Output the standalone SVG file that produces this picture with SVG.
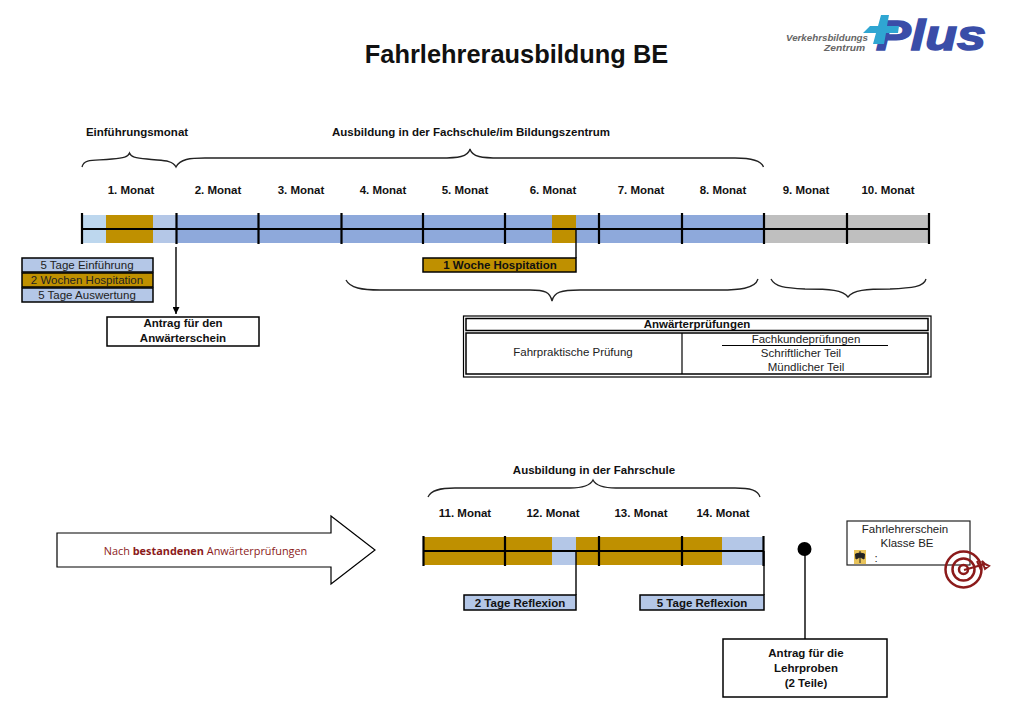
<svg xmlns="http://www.w3.org/2000/svg" width="1024" height="714" viewBox="0 0 1024 714">
<style>
text{font-family:"Liberation Sans",Arial,sans-serif;fill:#111;text-anchor:middle}
.b{font-weight:bold;font-size:11.500px}
.n{font-size:11.500px;fill:#222}
.tick{stroke:#000;stroke-width:2.200;fill:none}
.axis{stroke:#000;stroke-width:2;fill:none}
.line{stroke:#000;stroke-width:1.400;fill:none}
.brace{stroke:#222;stroke-width:1.300;fill:none}
.box{stroke:#000;stroke-width:1.500;fill:#fff}
.lb{fill:#B4C7E7}.go{fill:#BF9000}.mb{fill:#8EA9DB}.gr{fill:#BFBFBF}.pb{fill:#BDD7EE}
</style>
<defs><marker id="ah" markerWidth="8" markerHeight="7" refX="7" refY="3.500" orient="auto" markerUnits="userSpaceOnUse"><path d="M0 0L7 3.500L0 7Z" fill="#000"/></marker></defs>
<rect width="1024" height="714" fill="#fff"/>
<text x="516.500" y="63" style="font-size:25.400px;font-weight:bold">Fahrlehrerausbildung BE</text>
<g id="logo">
<text x="827" y="41" textLength="82" lengthAdjust="spacingAndGlyphs" style="font-size:8.500px;font-weight:bold;font-style:italic;fill:#666">Verkehrsbildungs</text>
<text x="844.500" y="51" textLength="41" lengthAdjust="spacingAndGlyphs" style="font-size:8.500px;font-weight:bold;font-style:italic;fill:#666">Zentrum</text>
<text x="931" y="50" textLength="110" lengthAdjust="spacingAndGlyphs" style="font-size:43px;font-weight:bold;font-style:italic;fill:#3A4DA8;stroke:#3A4DA8;stroke-width:1.500">Plus</text>
<path d="M881 15H889L887 26H899L898 33H886L884 44H873L876 33H863L870 26H878Z" fill="#2FA6D2"/>
</g>
<g id="headings">
<text x="137" y="136" class="b">Einführungsmonat</text>
<text x="471" y="136" class="b">Ausbildung in der Fachschule/im Bildungszentrum</text>
<text x="131" y="194" class="b">1. Monat</text><text x="218" y="194" class="b">2. Monat</text><text x="301" y="194" class="b">3. Monat</text><text x="383" y="194" class="b">4. Monat</text><text x="465" y="194" class="b">5. Monat</text><text x="553" y="194" class="b">6. Monat</text><text x="641" y="194" class="b">7. Monat</text><text x="723" y="194" class="b">8. Monat</text><text x="806" y="194" class="b">9. Monat</text><text x="888" y="194" class="b">10. Monat</text>
<text x="594" y="474" class="b">Ausbildung in der Fahrschule</text>
<text x="465" y="517" class="b">11. Monat</text><text x="553" y="517" class="b">12. Monat</text><text x="641" y="517" class="b">13. Monat</text><text x="723" y="517" class="b">14. Monat</text>
</g>
<g id="timeline1">
<rect x="82" y="215" width="24" height="28" class="pb"/><rect x="106" y="215" width="47" height="28" class="go"/><rect x="153" y="215" width="23" height="28" class="lb"/><rect x="176" y="215" width="588" height="28" class="mb"/><rect x="552" y="215" width="24" height="28" class="go"/><rect x="764" y="215" width="165" height="28" class="gr"/>
<path class="axis" d="M82 229H929"/>
<path class="tick" d="M82 213V244M176.500 213V244M258.500 213V244M341.500 213V244M423 213V244M505 213V244M599 213V244M682 213V244M764 213V244M847 213V244M929 213V244"/>
</g>
<g id="timeline2">
<rect x="424" y="537" width="128" height="28" class="go"/><rect x="552" y="537" width="24" height="28" class="lb"/><rect x="576" y="537" width="146" height="28" class="go"/><rect x="722" y="537" width="42" height="28" class="lb"/>
<path class="axis" d="M423 551H764"/>
<path class="tick" d="M423.500 536V566M505 536V566M599 536V566M682 536V566M763.500 536V566"/>
</g>
<g id="connectors">
<path class="brace" d="M82 167C84 158 96 161 112 159C124 158 128 157 129.500 153C131 157 135 158 147 159C160 161 172 159 176 167C180 159 190 158 205 158H440C458 158 468 157 470 149C472 157 482 158 500 158H735C750 158 761 160 763.500 167"/>
<path class="brace" d="M346 280C350 288 362 290 380 290H530C545 290 550 292 552 301C554 292 561 290 580 290H720C738 290 755 289 758 279"/>
<path class="brace" d="M771 279C775 287 785 288 805 289C830 289 843 290 848 297C853 290 866 289 890 289C912 288 924 287 926 279"/>
<path class="brace" d="M428 497C431 490 440 488 455 488H570C583 488 590 486 593 480C596 486 603 488 616 488H735C750 488 758 490 760 497"/>
<path class="line" d="M176 247V314" marker-end="url(#ah)"/>
<path class="line" d="M576 229V258"/>
<path class="line" d="M576 551V595"/>
<path class="line" d="M764 551V595"/>
<path class="line" d="M805 549V639"/>
<circle cx="804.500" cy="549" r="7" fill="#000"/>
</g>
<g id="legend">
<rect x="22" y="258" width="131" height="14" class="lb" stroke="#000" stroke-width="1.500"/>
<rect x="22" y="273" width="131" height="14" class="go" stroke="#000" stroke-width="1.500"/>
<rect x="22" y="288" width="131" height="14" class="lb" stroke="#000" stroke-width="1.500"/>
<text x="87" y="269" class="n">5 Tage Einführung</text><text x="87" y="284" class="n">2 Wochen Hospitation</text><text x="87" y="299" class="n">5 Tage Auswertung</text>
</g>
<g id="antrag1">
<rect x="107" y="317" width="152" height="29" class="box"/>
<text x="183" y="327" class="b">Antrag für den</text><text x="183" y="342" class="b">Anwärterschein</text>
</g>
<g id="hospitation">
<rect x="423" y="258" width="153" height="14" class="go" stroke="#000" stroke-width="1.500"/>
<text x="500" y="269" class="b">1 Woche Hospitation</text>
</g>
<g id="pruefungen">
<rect x="463.500" y="316" width="467.500" height="61" fill="#fff" stroke="#000" stroke-width="1.200"/>
<rect x="466" y="318.500" width="462" height="12" fill="#fff" stroke="#000" stroke-width="1.500"/>
<rect x="466" y="333" width="462" height="41" fill="#fff" stroke="#000" stroke-width="1.500"/>
<path d="M682 333V374" stroke="#000" stroke-width="1.200"/>
<path d="M722 345.500H888" stroke="#000" stroke-width="1.200"/>
<text x="697" y="328" class="b">Anwärterprüfungen</text>
<text x="573" y="356" class="n">Fahrpraktische Prüfung</text>
<text x="806" y="343" class="n">Fachkundeprüfungen</text>
<text x="801" y="357" class="n">Schriftlicher Teil</text>
<text x="806" y="371" class="n">Mündlicher Teil</text>
</g>
<g id="nach-arrow">
<path d="M57 533H331V516L375 550L331 584V567H57Z" fill="#fff" stroke="#000" stroke-width="1.200"/>
<text x="205.500" y="555" style="font-family:'Open Sans','Liberation Sans',sans-serif;font-size:10.900px;fill:#8B1A1A">Nach <tspan font-weight="bold">bestandenen</tspan> Anwärterprüfungen</text>
</g>
<g id="reflexion2"><rect x="464" y="595" width="112" height="15" class="lb" stroke="#000" stroke-width="1.500"/><text x="520" y="607" class="b">2 Tage Reflexion</text></g>
<g id="reflexion5"><rect x="640" y="595" width="124" height="15" class="lb" stroke="#000" stroke-width="1.500"/><text x="702" y="607" class="b">5 Tage Reflexion</text></g>
<g id="antrag2">
<rect x="723" y="639" width="164" height="58" class="box"/>
<text x="806" y="657" class="b">Antrag für die</text><text x="806" y="672" class="b">Lehrproben</text><text x="806" y="687" class="b">(2 Teile)</text>
</g>
<g id="fahrlehrerschein">
<rect x="847" y="521" width="123" height="44" fill="#fff" stroke="#222" stroke-width="1.200"/>
<text x="905" y="533" class="n">Fahrlehrerschein</text><text x="907" y="547" class="n">Klasse BE</text>
<text x="876" y="562" class="n">:</text>
<rect x="854" y="550" width="12" height="14" fill="#E8C35A"/>
<path d="M860 551V563M855.500 554L860 553L864.500 554L864 559L860 557L856 559Z" fill="#222" stroke="#222"/>
</g>
<g id="target" fill="none" stroke="#8B1A1A">
<circle cx="963.500" cy="569.500" r="18" stroke-width="2.500"/>
<circle cx="963.500" cy="569.500" r="11" stroke-width="2.500"/>
<circle cx="963.500" cy="569.500" r="4.500" stroke-width="2.500"/>
<path d="M964 570L985 564" stroke-width="2"/>
<path d="M977 561L981 570M982 561L985 569L989 566L985 564Z" stroke-width="2"/>
</g>
</svg>
